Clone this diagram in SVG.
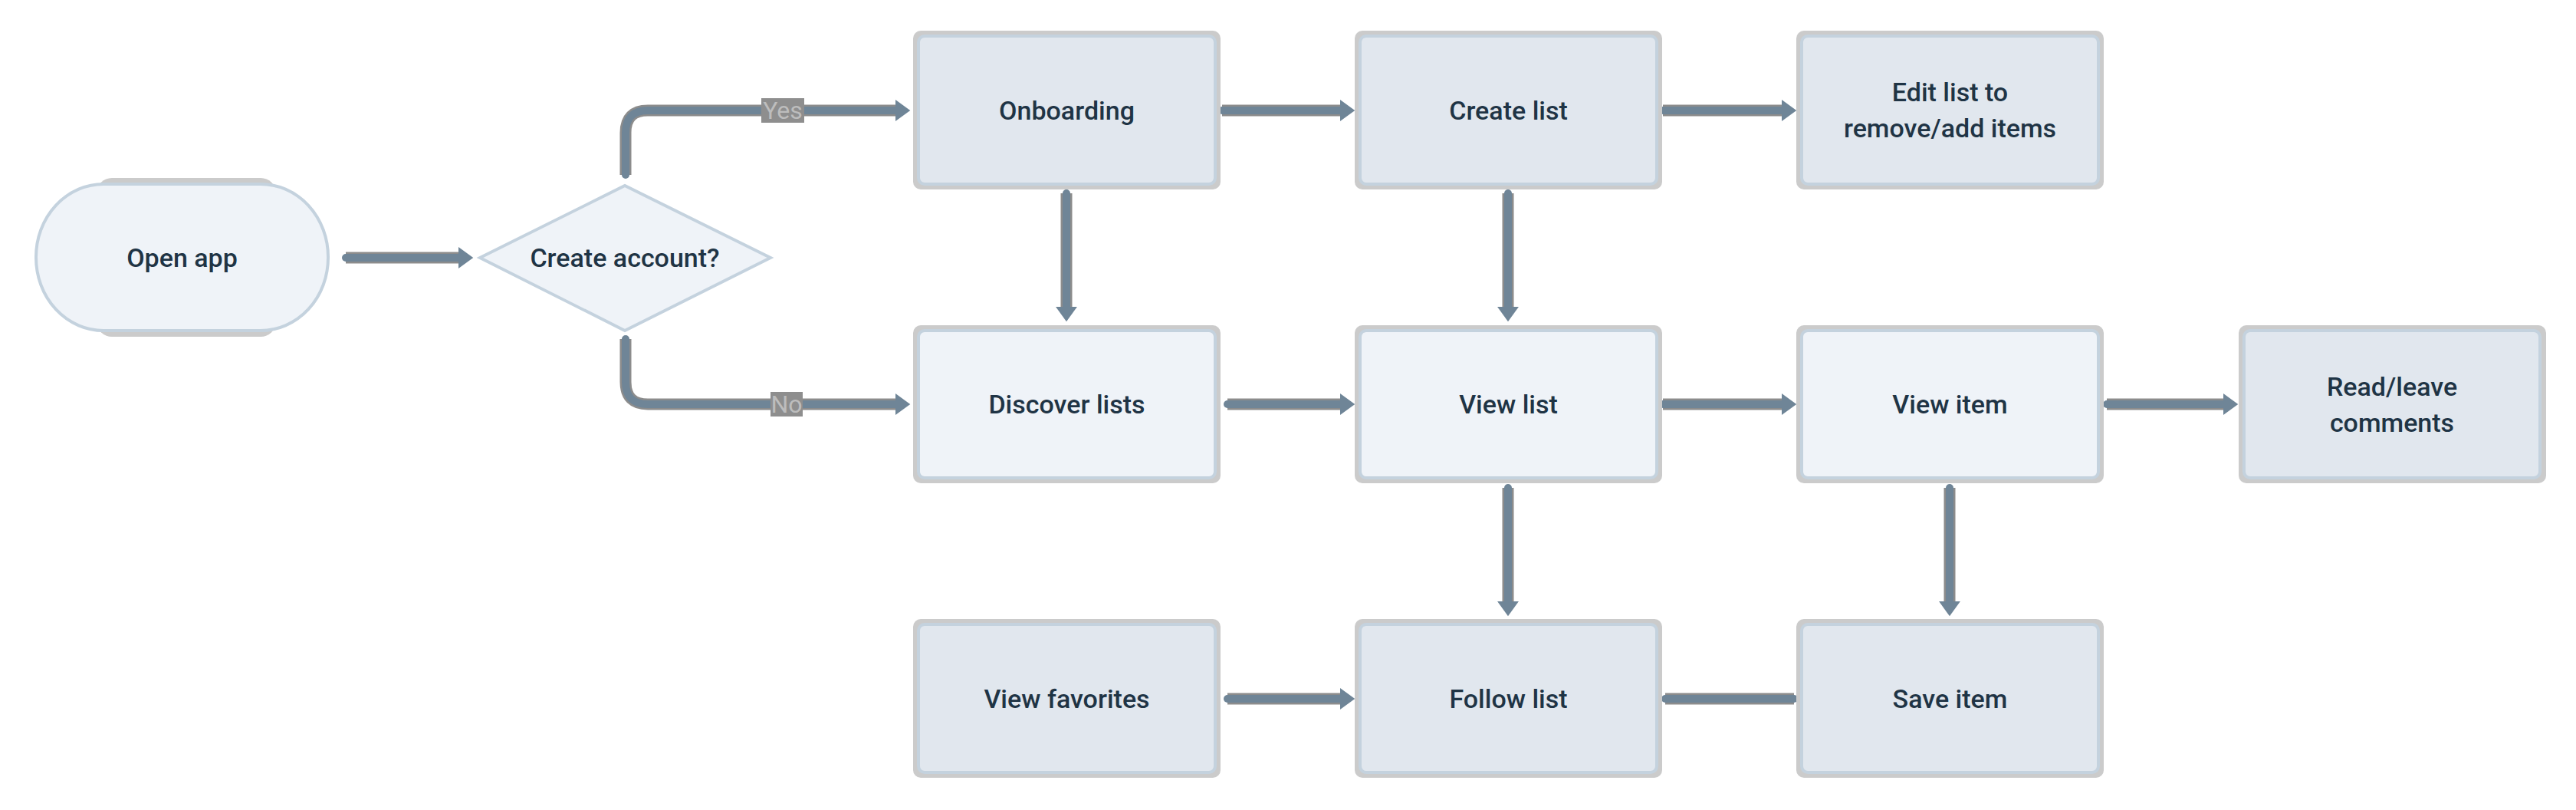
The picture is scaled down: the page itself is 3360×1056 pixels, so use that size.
<svg xmlns="http://www.w3.org/2000/svg" xmlns:xlink="http://www.w3.org/1999/xlink" width="3360" height="1056" viewBox="0 0 3360 1056">
<style>
  .halo { fill: #cbcbcb; }
  .box { stroke: #c4d2de; stroke-width: 4; }
  .dark { fill: #e1e7ee; }
  .light { fill: #eff3f8; }
  .t { font-family: Roboto, "Liberation Sans", Arial, sans-serif; font-weight: 500; font-size: 34px; fill: #1f3445; text-anchor: middle; }
  .lh { fill: none; stroke: #8c8c8c; stroke-width: 15; }
  .ln { fill: none; stroke: #6f8597; stroke-width: 10; stroke-linecap: round; }
  .lbox { fill: #8e8e8e; }
  .lt { font-family: Roboto, "Liberation Sans", Arial, sans-serif; font-size: 32px; fill: #bdbdbd; text-anchor: middle; }
</style>
<defs>
  <marker id="ah" markerUnits="userSpaceOnUse" markerWidth="30" markerHeight="30" viewBox="0 -14 20 28" refX="0" refY="0" orient="auto">
    <path d="M0,-13 L18,0 L0,13 Z" fill="#6f8597"/>
  </marker>
  <path id="c1" d="M451,336 H598"/>
  <path id="c2" d="M816,228 V173 Q816,144 845,144 H1168"/>
  <path id="c3" d="M816,442 V498 Q816,527 845,527 H1168"/>
  <path id="c4" d="M1594,144 H1748"/>
  <path id="c5" d="M2169,144 H2324"/>
  <path id="c6" d="M1391,252 V400"/>
  <path id="c7" d="M1967,252 V400"/>
  <path id="c8" d="M1601,527 H1748"/>
  <path id="c9" d="M2169,527 H2324"/>
  <path id="c10" d="M2748,527 H2900"/>
  <path id="c11" d="M1967,636 V784"/>
  <path id="c12" d="M2543,636 V784"/>
  <path id="c13" d="M1601,911 H1748"/>
  <path id="c14" d="M2172,911 H2340"/>
</defs>
<rect width="3360" height="1056" fill="#ffffff"/>

<g id="connectors">
  <g class="halos">
    <use xlink:href="#c1" class="lh"/><use xlink:href="#c2" class="lh"/><use xlink:href="#c3" class="lh"/>
    <use xlink:href="#c4" class="lh"/><use xlink:href="#c5" class="lh"/><use xlink:href="#c6" class="lh"/>
    <use xlink:href="#c7" class="lh"/><use xlink:href="#c8" class="lh"/><use xlink:href="#c9" class="lh"/>
    <use xlink:href="#c10" class="lh"/><use xlink:href="#c11" class="lh"/><use xlink:href="#c12" class="lh"/>
    <use xlink:href="#c13" class="lh"/><use xlink:href="#c14" class="lh"/>
  </g>
  <g class="lines">
    <use xlink:href="#c1" class="ln" marker-end="url(#ah)"/>
    <use xlink:href="#c2" class="ln" marker-end="url(#ah)"/>
    <use xlink:href="#c3" class="ln" marker-end="url(#ah)"/>
    <use xlink:href="#c4" class="ln" marker-end="url(#ah)"/>
    <use xlink:href="#c5" class="ln" marker-end="url(#ah)"/>
    <use xlink:href="#c6" class="ln" marker-end="url(#ah)"/>
    <use xlink:href="#c7" class="ln" marker-end="url(#ah)"/>
    <use xlink:href="#c8" class="ln" marker-end="url(#ah)"/>
    <use xlink:href="#c9" class="ln" marker-end="url(#ah)"/>
    <use xlink:href="#c10" class="ln" marker-end="url(#ah)"/>
    <use xlink:href="#c11" class="ln" marker-end="url(#ah)"/>
    <use xlink:href="#c12" class="ln" marker-end="url(#ah)"/>
    <use xlink:href="#c13" class="ln" marker-end="url(#ah)"/>
    <use xlink:href="#c14" class="ln"/>
  </g>
  <g id="label-yes">
    <rect class="lbox" x="993" y="128" width="56" height="32"/>
    <text class="lt" x="1021" y="155">Yes</text>
  </g>
  <g id="label-no">
    <rect class="lbox" x="1005" y="511" width="42" height="32"/>
    <text class="lt" x="1026" y="538">No</text>
  </g>
</g>

<g id="open-app">
  <rect class="halo" x="126" y="232" width="234" height="207" rx="20"/>
  <rect class="box light" x="47" y="240" width="381" height="191" rx="88" ry="95"/>
  <text class="t" x="237.5" y="348">Open app</text>
</g>

<g id="create-account">
  <polygon points="626,336 815,242 1005,336 815,431" class="box light"/>
  <text class="t" x="815" y="348">Create account?</text>
</g>

<g id="onboarding">
  <rect class="halo" x="1191" y="40" width="401" height="207" rx="10"/>
  <rect class="box dark" x="1198" y="47" width="387" height="193" rx="8"/>
  <text class="t" x="1391.5" y="156">Onboarding</text>
</g>

<g id="create-list">
  <rect class="halo" x="1767" y="40" width="401" height="207" rx="10"/>
  <rect class="box dark" x="1774" y="47" width="387" height="193" rx="8"/>
  <text class="t" x="1967.5" y="156">Create list</text>
</g>

<g id="edit-list">
  <rect class="halo" x="2343" y="40" width="401" height="207" rx="10"/>
  <rect class="box dark" x="2350" y="47" width="387" height="193" rx="8"/>
  <text class="t" x="2543.5" y="132">Edit list to</text>
  <text class="t" x="2543.5" y="179">remove/add items</text>
</g>

<g id="discover-lists">
  <rect class="halo" x="1191" y="424" width="401" height="206" rx="10"/>
  <rect class="box light" x="1198" y="431" width="387" height="192" rx="8"/>
  <text class="t" x="1391.5" y="539">Discover lists</text>
</g>

<g id="view-list">
  <rect class="halo" x="1767" y="424" width="401" height="206" rx="10"/>
  <rect class="box light" x="1774" y="431" width="387" height="192" rx="8"/>
  <text class="t" x="1967.5" y="539">View list</text>
</g>

<g id="view-item">
  <rect class="halo" x="2343" y="424" width="401" height="206" rx="10"/>
  <rect class="box light" x="2350" y="431" width="387" height="192" rx="8"/>
  <text class="t" x="2543.5" y="539">View item</text>
</g>

<g id="read-leave-comments">
  <rect class="halo" x="2920" y="424" width="401" height="206" rx="10"/>
  <rect class="box dark" x="2927" y="431" width="386" height="192" rx="8"/>
  <text class="t" x="3120" y="516">Read/leave</text>
  <text class="t" x="3120" y="563">comments</text>
</g>

<g id="view-favorites">
  <rect class="halo" x="1191" y="807" width="401" height="207" rx="10"/>
  <rect class="box dark" x="1198" y="814" width="387" height="193" rx="8"/>
  <text class="t" x="1391.5" y="923">View favorites</text>
</g>

<g id="follow-list">
  <rect class="halo" x="1767" y="807" width="401" height="207" rx="10"/>
  <rect class="box dark" x="1774" y="814" width="387" height="193" rx="8"/>
  <text class="t" x="1967.5" y="923">Follow list</text>
</g>

<g id="save-item">
  <rect class="halo" x="2343" y="807" width="401" height="207" rx="10"/>
  <rect class="box dark" x="2350" y="814" width="387" height="193" rx="8"/>
  <text class="t" x="2543.5" y="923">Save item</text>
</g>
</svg>
